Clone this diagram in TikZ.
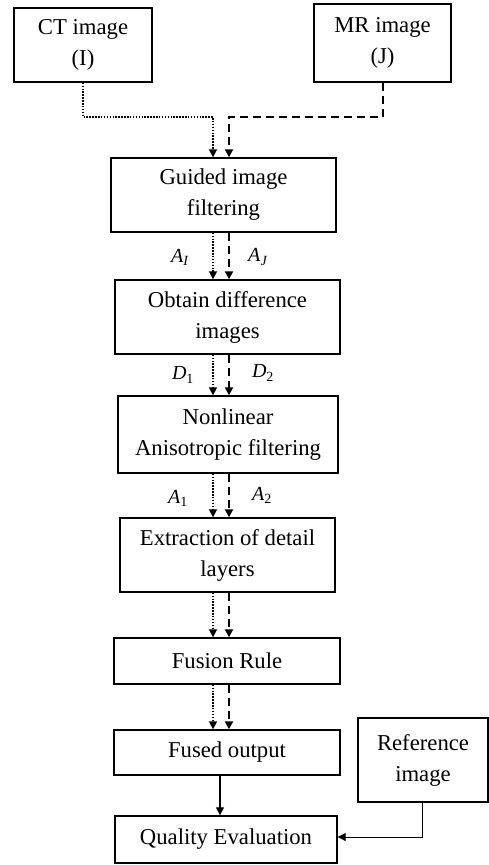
\documentclass[tikz,border=0pt]{standalone}
\usepackage{fontspec}
\setmainfont{Liberation Serif}
\usetikzlibrary{arrows.meta,calc}
\begin{document}
\begin{tikzpicture}[x=1pt,y=-1pt,
  box/.style={draw,line width=1.4pt,rectangle,align=center,inner sep=0pt,
    font=\fontsize{22.7}{31}\selectfont},
  lbl/.style={font=\fontsize{20}{22}\selectfont,inner sep=0pt},
  tip/.style={-{Triangle[length=8pt,width=8pt]}},
  dotline/.style={tip,line width=1.7pt,dash pattern=on 1.5pt off 1.4pt},
  dashline/.style={tip,line width=2pt,dash pattern=on 8pt off 5pt},
  solidline/.style={tip,line width=1.2pt}]
\useasboundingbox (0,0) rectangle (489,865);
\node[box,minimum width=138pt,minimum height=74pt] (ct) at (83,45) {CT image\\(I)};
\node[box,minimum width=137pt,minimum height=78pt] (mr) at (382.5,43) {MR image\\(J)};
\node[box,minimum width=225pt,minimum height=74pt] (guided) at (223.5,195) {Guided image\\filtering};
\node[box,minimum width=225pt,minimum height=74pt] (obtain) at (227.5,317) {Obtain difference\\images};
\node[box,minimum width=220pt,minimum height=77pt] (nonlin) at (228,434.5) {Nonlinear\\Anisotropic filtering};
\node[box,minimum width=215pt,minimum height=74pt] (extract) at (227.5,555) {Extraction of detail\\layers};
\node[box,minimum width=226pt,minimum height=46pt] (fusion) at (227,661) {Fusion Rule};
\node[box,minimum width=226pt,minimum height=45pt] (fused) at (227,752.5) {Fused output};
\node[box,minimum width=222pt,minimum height=47pt] (quality) at (226,839.5) {Quality Evaluation};
\node[box,minimum width=130pt,minimum height=84pt] (ref) at (423,760) {Reference\\image};
\coordinate (xl) at (213,0);
\coordinate (xr) at (229,0);
\coordinate (ym) at (0,117);
% top connectors
\draw[dotline] (ct.south) |- (ym -| xl) -- (xl |- guided.north);
\draw[dashline] (mr.south) |- (ym -| xr) -- (xr |- guided.north);
% parallel pairs
\foreach \a/\b in {guided/obtain,obtain/nonlin,nonlin/extract,extract/fusion,fusion/fused}{
  \draw[dotline] (xl |- \a.south) -- (xl |- \b.north);
  \draw[dashline] (xr |- \a.south) -- (xr |- \b.north);
}
\node[lbl] (la1) at (180,257) {\textit{A}\textsubscript{\textit{I}}};
\node[lbl] (la2) at (258,257) {\textit{A}\textsubscript{\textit{J}}};
\node[lbl] (ld1) at (183,375) {\textit{D}\textsubscript{1}};
\node[lbl] (ld2) at (263,373) {\textit{D}\textsubscript{2}};
\node[lbl] (lb1) at (178,498) {\textit{A}\textsubscript{1}};
\node[lbl] (lb2) at (262,495) {\textit{A}\textsubscript{2}};
\coordinate (xs) at (220,0);
\draw[solidline] (xs |- fused.south) -- (xs |- quality.north);
\coordinate (xref) at (422,837);
\draw[tip,line width=1pt] (ref.south -| xref) -- (xref) -- (xref -| quality.east);
\end{tikzpicture}
\end{document}
